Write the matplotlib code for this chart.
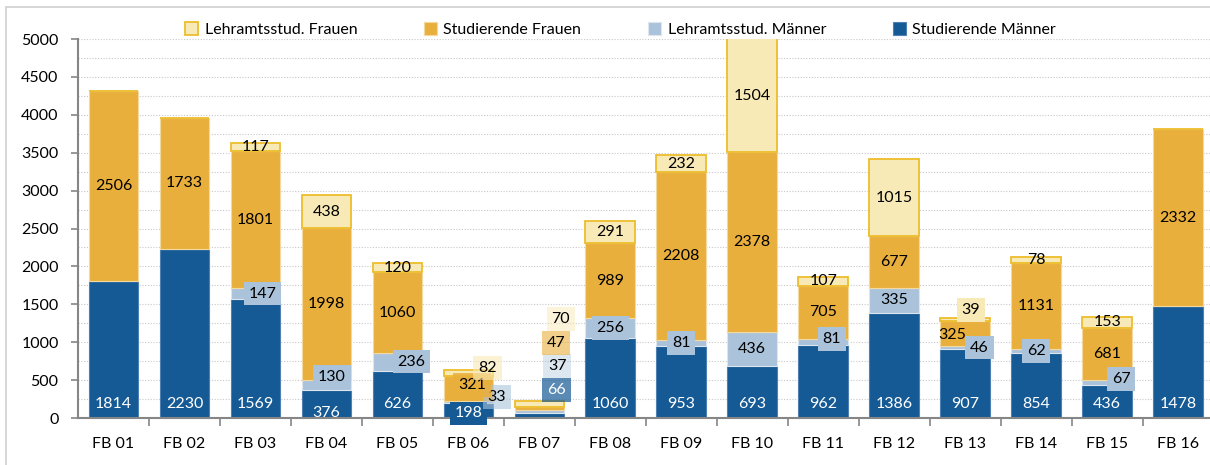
import matplotlib.pyplot as plt
import numpy as np
from matplotlib.patches import Rectangle

plt.rcParams['font.family'] = ['Lato', 'DejaVu Sans']

categories = ['FB 01', 'FB 02', 'FB 03', 'FB 04', 'FB 05', 'FB 06', 'FB 07', 'FB 08',
              'FB 09', 'FB 10', 'FB 11', 'FB 12', 'FB 13', 'FB 14', 'FB 15', 'FB 16']
stud_maenner = [1814, 2230, 1569, 376, 626, 198, 66, 1060, 953, 693, 962, 1386, 907, 854, 436, 1478]
lehr_maenner = [0, 0, 147, 130, 236, 33, 37, 256, 81, 436, 81, 335, 46, 62, 67, 0]
stud_frauen = [2506, 1733, 1801, 1998, 1060, 321, 47, 989, 2208, 2378, 705, 677, 325, 1131, 681, 2332]
lehr_frauen = [0, 0, 117, 438, 120, 82, 70, 291, 232, 1504, 107, 1015, 39, 78, 153, 0]

series = [
    ('Studierende Männer', stud_maenner, '#155A95', '#4F80B3', 'white'),
    ('Lehramtsstud. Männer', lehr_maenner, '#ABC3DA', '#DCE6F0', 'black'),
    ('Studierende Frauen', stud_frauen, '#E9AF3D', '#F3D9A0', 'black'),
    ('Lehramtsstud. Frauen', lehr_frauen, '#F8EAB6', '#EDBD2C', 'black'),
]

# label placement tweaks: (series index, category index) -> (dx, y, boxed, alpha)
label_pos = {
    (0, 3): (0.0, 60, False, 1), (0, 5): (0.0, 60, True, 1), (0, 6): (0.24, 370, True, 0.7),
    (1, 2): (0.1, None, True, 1), (1, 3): (0.08, 540, True, 1), (1, 4): (0.2, None, True, 1),
    (1, 5): (0.4, 280, True, 0.6), (1, 6): (0.25, 690, True, 0.4), (1, 7): (0.0, None, True, 1),
    (1, 8): (0.0, None, True, 1), (1, 10): (0.12, 1040, True, 1), (1, 12): (0.2, None, True, 1),
    (1, 13): (0.0, None, True, 1), (1, 14): (0.2, 515, True, 1),
    (2, 5): (0.05, 435, True, 0.85), (2, 6): (0.24, 990, True, 0.6), (2, 12): (-0.18, 1095, False, 1),
    (3, 5): (0.27, 660, True, 0.6), (3, 6): (0.3, 1310, True, 0.5), (3, 12): (0.08, 1425, True, 1),
}

fig = plt.figure(figsize=(12.1, 4.65), dpi=100)
ax = fig.add_axes([0.0645, 0.101, 0.9355, 0.815])
fig.add_artist(Rectangle((0.005, -0.1), 1.2, 1.085, transform=fig.transFigure,
                         fill=False, edgecolor='#D0D0D0', linewidth=1.2))

x = np.arange(len(categories))
width = 0.7
bottom = np.zeros(len(categories))
handles = []
for si, (name, vals, col, edge, tcol) in enumerate(series):
    vals = np.array(vals, dtype=float)
    lw = 1.3 if si == 3 else 0.8
    bars = ax.bar(x, vals, width, bottom=bottom, color=col, edgecolor=edge,
                  linewidth=lw, zorder=2, label=name)
    handles.append(bars)
    for i, v in enumerate(vals):
        if v <= 0:
            continue
        dx, y, boxed, alpha = 0.0, None, False, 1
        if si == 0:
            y = 185
            boxed = True
        if (si, i) in label_pos:
            dx, y, boxed, alpha = label_pos[(si, i)]
        if y is None:
            y = bottom[i] + v / 2
        y = min(y, 4250)
        bbox = dict(boxstyle='square,pad=0.3', facecolor=col, edgecolor='none', alpha=alpha) if boxed else None
        ax.text(x[i] + dx, y, f'{int(v)}', ha='center', va='center', fontsize=11.5,
                color=tcol, bbox=bbox, zorder=5 + si, clip_on=False)
    bottom += vals

ax.set_xlim(-0.5, 15.45)
ax.set_ylim(0, 5000)
ax.set_yticks(np.arange(0, 5001, 500))
ax.set_yticks(np.arange(0, 5001, 250), minor=True)
ax.yaxis.grid(True, which='both', linestyle=(0, (1, 1.5)), color='#C8C8C8', linewidth=0.8, zorder=0)
ax.set_axisbelow(True)
ax.set_xticks(x)
ax.set_xticklabels(categories)
ax.set_xticks(np.arange(0.5, 15.5, 1), minor=True)
ax.tick_params(axis='x', which='major', length=0, pad=14, labelsize=11.5)
ax.tick_params(axis='x', which='minor', length=6, color='#868686', width=1.2)
ax.tick_params(axis='y', which='major', length=5, color='#868686', width=1.2, pad=9, labelsize=11.5)
ax.tick_params(axis='y', which='minor', length=0)
for s in ['top', 'right']:
    ax.spines[s].set_visible(False)
for s in ['left', 'bottom']:
    ax.spines[s].set_color('#868686')
    ax.spines[s].set_linewidth(1.5)

order = [3, 2, 1, 0]
fig.legend([handles[i] for i in order], [series[i][0] for i in order], loc='center',
           bbox_to_anchor=(0.513, 0.936), ncol=4, frameon=False, fontsize=11.5,
           handlelength=0.8, handleheight=0.8, handletextpad=0.4, columnspacing=4.2)

fig.savefig('out.png', dpi=100)
